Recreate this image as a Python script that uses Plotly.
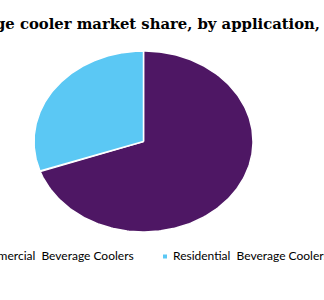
import numpy as np
import plotly.graph_objects as go

categories = ["Commercial\u00a0 Beverage Coolers", "Residential\u00a0 Beverage Coolers"]
shares = [69.6, 30.4]
colors = ["#4E1764", "#5BC8F4"]
title_text = "Global beverage cooler market share, by application, 2019 (%)"

W, H = 324, 300
cx, cy, rx, ry = 143.5, 141.5, 109.5, 90.5

fig = go.Figure()
total = sum(shares)
start = 0.0
for name, val, col in zip(categories, shares, colors):
    end = start + 360.0 * val / total
    t = np.radians(np.linspace(start, end, 240))
    xs = np.concatenate([[cx], cx + rx * np.sin(t), [cx]])
    ys = np.concatenate([[cy], cy - ry * np.cos(t), [cy]])
    fig.add_trace(go.Scatter(x=xs, y=ys, fill="toself", fillcolor=col, mode="lines",
                             line=dict(color="white", width=1.5), showlegend=False,
                             hoverinfo="text", text=f"{name}: {val}%"))
    start = end

# title (wider than the canvas, clipped at both sides like the reference)
fig.add_annotation(text=f"<b>{title_text}</b>", xref="paper", yref="paper",
                   x=-121 / W, y=1 - 24 / H, xanchor="left", yanchor="middle",
                   showarrow=False, font=dict(family="DejaVu Serif", size=14.8, color="#000000"))

# legend (manual, horizontal)
legend_text_x = [-29, 171]
legend_y = 255
for name, col, tx in zip(categories, colors, legend_text_x):
    fig.add_shape(type="rect", xref="paper", yref="paper",
                  x0=(tx - 8) / W, x1=(tx - 4) / W,
                  y0=1 - (legend_y + 3.5) / H, y1=1 - (legend_y - 0.5) / H,
                  fillcolor=col, line=dict(width=0))
    fig.add_annotation(text=name, xref="paper", yref="paper",
                       x=tx / W, y=1 - legend_y / H, xanchor="left", yanchor="middle",
                       showarrow=False, font=dict(family="Lato", size=12, color="#000000"))

fig.update_layout(
    width=W, height=H, margin=dict(l=0, r=0, t=0, b=0, autoexpand=False),
    paper_bgcolor="white", plot_bgcolor="white", showlegend=False,
    xaxis=dict(range=[0, W], visible=False, fixedrange=True),
    yaxis=dict(range=[H, 0], visible=False, fixedrange=True),
)

fig.write_html("out.html")
